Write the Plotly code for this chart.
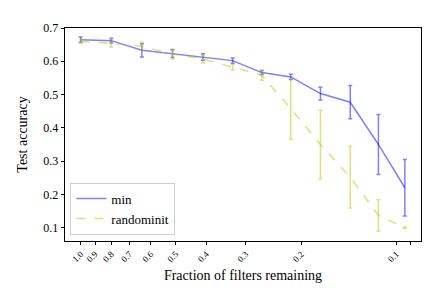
import plotly.graph_objects as go

fractions = [1.0, 0.8, 0.64, 0.512, 0.41, 0.33, 0.267, 0.216, 0.174, 0.14, 0.114, 0.094]

min_acc = [0.665, 0.662, 0.633, 0.623, 0.613, 0.602, 0.566, 0.553, 0.503, 0.477, 0.350, 0.220]
min_err = [0.008, 0.007, 0.020, 0.012, 0.010, 0.008, 0.006, 0.008, 0.019, 0.050, 0.090, 0.085]

rand_acc = [0.660, 0.654, 0.645, 0.622, 0.607, 0.582, 0.558, 0.458, 0.350, 0.252, 0.137, 0.100]
rand_err = [0.005, 0.012, 0.012, 0.015, 0.012, 0.008, 0.015, 0.092, 0.103, 0.093, 0.047, 0.002]

tick_vals = [1.0, 0.9, 0.8, 0.7, 0.6, 0.5, 0.4, 0.3, 0.2, 0.1, 0.09]
tick_text = ["1.0", "0.9", "0.8", "0.7", "0.6", "0.5", "0.4", "0.3", "0.2", "0.1", ""]

y_ticks = [0.1, 0.2, 0.3, 0.4, 0.5, 0.6, 0.7]

blue = "rgba(0,0,255,0.5)"
yellow = "rgba(191,191,0,0.5)"
font = "'Times New Roman', 'Liberation Serif', 'DejaVu Serif', serif"

fig = go.Figure()
fig.add_trace(go.Scatter(
    x=fractions, y=min_acc, mode="lines", name="min",
    line=dict(color=blue, width=1.5),
    error_y=dict(type="data", array=min_err, visible=True, color=blue, thickness=1.5, width=2),
))
fig.add_trace(go.Scatter(
    x=fractions, y=rand_acc, mode="lines", name="randominit",
    line=dict(color=yellow, width=1.5, dash="dash"),
    error_y=dict(type="data", array=rand_err, visible=True, color=yellow, thickness=1.5, width=2),
))

fig.update_layout(
    width=432, height=288,
    margin=dict(l=57, r=19, t=20, b=55),
    paper_bgcolor="white", plot_bgcolor="white",
    font=dict(family=font, size=12, color="black"),
    showlegend=True,
    legend=dict(
        x=0.015, y=0.03, xanchor="left", yanchor="bottom",
        bgcolor="rgba(255,255,255,0.8)", bordercolor="#cccccc", borderwidth=1,
        font=dict(family=font, size=13),
        tracegroupgap=0,
    ),
)
fig.update_xaxes(
    type="log", range=[0.0497, -1.078],
    tickmode="array", tickvals=tick_vals, ticktext=tick_text,
    tickangle=-45, tickfont=dict(family=font, size=9),
    ticks="outside", ticklen=3.5, tickcolor="black", tickwidth=0.8,
    showline=True, linecolor="black", linewidth=0.8, mirror=True,
    showgrid=False, zeroline=False,
    title=dict(text="Fraction of filters remaining", font=dict(family=font, size=14), standoff=6),
)
fig.update_yaxes(
    range=[0.06, 0.70],
    tickmode="array", tickvals=y_ticks, ticktext=[f"{v:.1f}" for v in y_ticks],
    tickfont=dict(family=font, size=12),
    ticks="outside", ticklen=3.5, tickcolor="black", tickwidth=0.8,
    showline=True, linecolor="black", linewidth=0.8, mirror=True,
    showgrid=False, zeroline=False,
    title=dict(text="Test accuracy", font=dict(family=font, size=14), standoff=12),
)

fig.write_html("out.html")
